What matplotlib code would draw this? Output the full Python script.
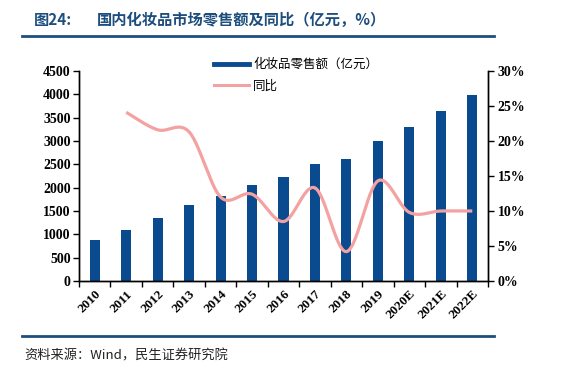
import numpy as np
import matplotlib
matplotlib.use('Agg')
import matplotlib.pyplot as plt
from matplotlib.ticker import FuncFormatter, MultipleLocator
from matplotlib.lines import Line2D

# Data
years = ['2010', '2011', '2012', '2013', '2014', '2015', '2016', '2017',
         '2018', '2019', '2020E', '2021E', '2022E']
sales = [880, 1100, 1340, 1625, 1825, 2050, 2225, 2515, 2620, 2995,
         3290, 3640, 3990]
# growth (%), no value for 2010
growth = [24.1, 21.6, 21.3, 12.0, 12.4, 8.5, 13.3, 4.2, 14.3, 9.8, 10.0, 10.0]

barColour = '#0a4b8f'
lineColour = '#f4a1a1'
titleColour = '#1d4e7e'
cjk = ['Noto Sans CJK SC', 'DejaVu Sans']
num = 'Liberation Serif'


def smooth(x, y, n=30):
    # Catmull-Rom curve through the points, like a smoothed office line
    x = np.asarray(x, float)
    y = np.asarray(y, float)
    px = np.concatenate([[x[0]], x, [x[-1]]])
    py = np.concatenate([[y[0]], y, [y[-1]]])
    outx, outy = [], []
    for i in range(1, len(px) - 2):
        t = np.linspace(0, 1, n)
        for p, out in ((px, outx), (py, outy)):
            p0, p1, p2, p3 = p[i - 1], p[i], p[i + 1], p[i + 2]
            out.extend(0.5 * ((2 * p1) + (-p0 + p2) * t +
                              (2 * p0 - 5 * p1 + 4 * p2 - p3) * t ** 2 +
                              (-p0 + 3 * p1 - 3 * p2 + p3) * t ** 3))
    return np.array(outx), np.array(outy)


fig = plt.figure(figsize=(5.66, 3.65), dpi=100)
ax = fig.add_axes([79 / 566, 1 - 281 / 365, 409 / 566, 210 / 365])
ax2 = ax.twinx()

xpos = np.arange(len(years))
ax.bar(xpos, sales, width=0.32, color=barColour, zorder=2)

sx, sy = smooth(xpos[1:], growth)
ax2.plot(sx, sy / 100, color=lineColour, lw=2.3, solid_capstyle='butt')

ax.set_xlim(-0.5, len(years) - 0.5)
ax.set_ylim(0, 4500)
ax.yaxis.set_major_locator(MultipleLocator(500))
ax2.set_ylim(0, 0.30)
ax2.yaxis.set_major_locator(MultipleLocator(0.05))
ax2.yaxis.set_major_formatter(FuncFormatter(lambda v, p: '%d%%' % round(v * 100)))

ax.set_xticks(xpos)
ax.set_xticklabels(years, rotation=45, ha='right', rotation_mode='anchor')
ax.set_xticks(np.arange(-0.5, len(years), 1), minor=True)
ax.tick_params(axis='x', which='major', length=0, pad=5)
ax.tick_params(axis='x', which='minor', length=4, width=1, direction='out')
ax.tick_params(axis='y', length=4, width=1, direction='out', pad=2)
ax2.tick_params(axis='y', length=4, width=1, direction='out', pad=3)

for a in (ax, ax2):
    a.spines['top'].set_visible(False)
    for s in ('left', 'right', 'bottom'):
        a.spines[s].set_linewidth(1)
    for lab in a.get_yticklabels():
        lab.set_fontfamily(num)
        lab.set_fontweight('bold')
        lab.set_fontsize(10)
for lab in ax.get_xticklabels():
    lab.set_fontfamily(num)
    lab.set_fontweight('bold')
    lab.set_fontsize(9.5)
ax.set_zorder(ax2.get_zorder() - 1)
ax2.patch.set_visible(False)

handles = [Line2D([0], [0], color=barColour, lw=3.5),
           Line2D([0], [0], color=lineColour, lw=2.2)]
fig.legend(handles, ['化妆品零售额（亿元）', '同比'], loc='upper left',
           bbox_to_anchor=(203 / 566, 1 - 47 / 365), frameon=False,
           handlelength=2.8, labelspacing=0.65, handletextpad=0.3,
           prop={'family': cjk, 'size': 9})

# header and footer
fig.text(34 / 566, 1 - 20 / 365, '图24:', family=cjk, weight='bold',
         fontsize=11, color=titleColour, va='center')
fig.text(97 / 566, 1 - 20 / 365, '国内化妆品市场零售额及同比（亿元，%）',
         family=cjk, weight='bold', fontsize=11, color=titleColour,
         va='center')
fig.add_artist(Line2D([22 / 566, 494 / 566], [1 - 36 / 365, 1 - 36 / 365],
                      color=titleColour, lw=2))
fig.add_artist(Line2D([22 / 566, 494 / 566], [1 - 336 / 365, 1 - 336 / 365],
                      color=titleColour, lw=2))
fig.text(24 / 566, 1 - 356 / 365, '资料来源：Wind，民生证券研究院',
         family=cjk, fontsize=9.5, color='#222222', va='center')

fig.savefig('out.png', dpi=100, facecolor='white')
